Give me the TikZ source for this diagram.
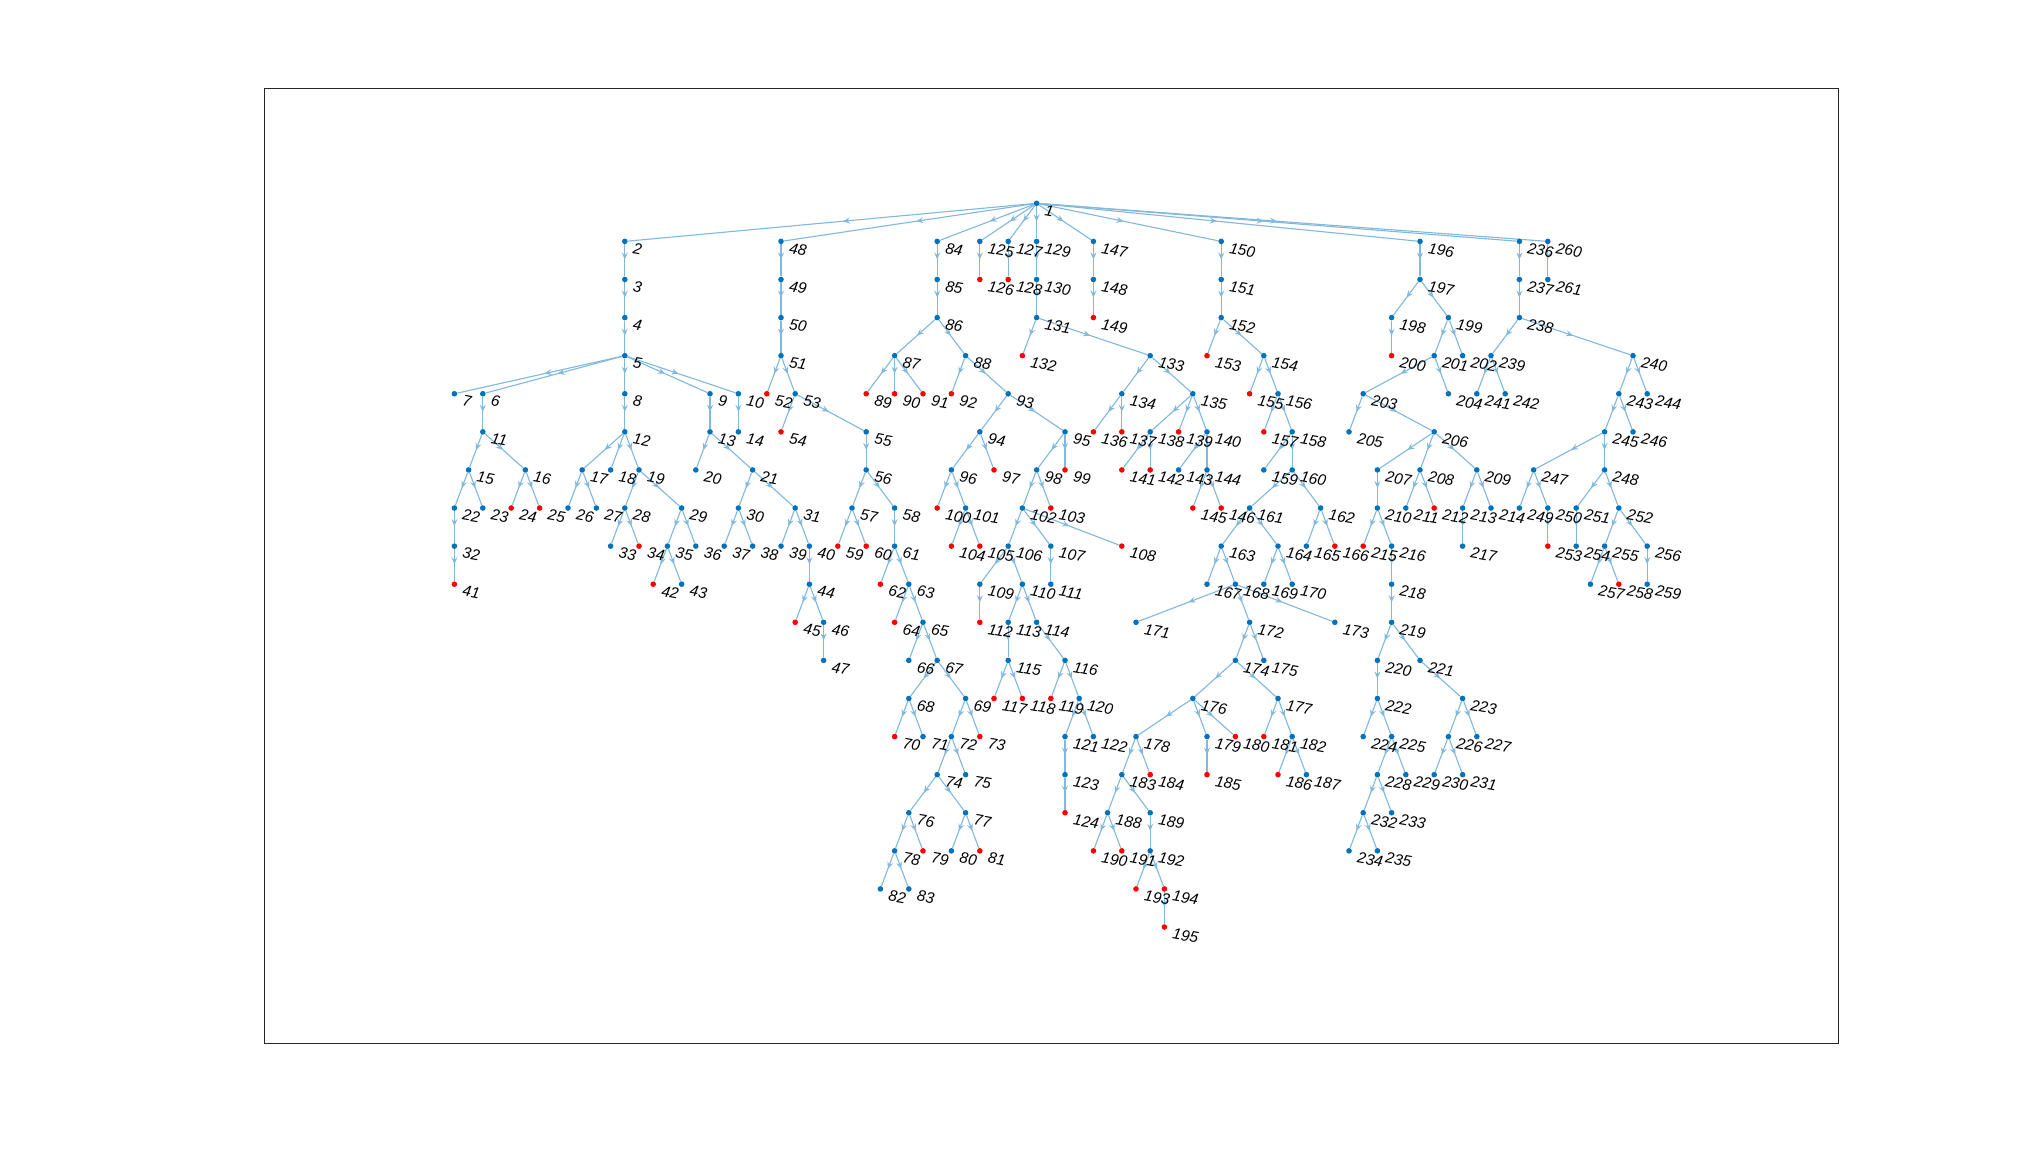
\documentclass[tikz,border=0pt]{standalone}
\usepackage{fontspec}
\setmainfont{Liberation Sans}
\usetikzlibrary{arrows.meta,decorations.markings}
\pgfdeclarelayer{paper}
\pgfdeclarelayer{edgelayer}
\pgfsetlayers{paper,edgelayer,main}
\definecolor{nodeblue}{rgb}{0,0.447,0.741}
\definecolor{edgeblue}{rgb}{0.5,0.7235,0.8705}
\definecolor{axisgray}{rgb}{0.15,0.15,0.15}
\tikzset{
  dotb/.style={circle,fill=nodeblue,inner sep=0pt,minimum size=5.6bp},
  dotr/.style={circle,fill=red,inner sep=0pt,minimum size=5.6bp},
  lbl/.style={anchor=west,rotate=-10,inner sep=0pt,font=\fontsize{15.5}{17}\selectfont\itshape},
  conn/.style={draw=edgeblue,line width=1.1bp,postaction={decorate},
    decoration={markings,mark=at position 0.47 with {\arrow{Stealth[length=7bp,width=6bp,inset=2.6bp]}}}},
}
% vertex: id, column, layer, style
\newcommand\mkv[4]{\node[#4] (v#1) at ({454.4+14.2*#2},{203.3+38.09*#3}) {};
  \node[lbl] (t#1) at ([shift={(8.3,6.5)}]v#1.center) {#1};}
% connectors from a parent to its children
\newcommand\mke[2]{\foreach \ch in {#2} {\draw[conn] (v#1) -- (v\ch);}}
\begin{document}
\begin{tikzpicture}[x=1bp,y=-1bp]
\useasboundingbox (0,0) rectangle (2031,1172);
\begin{pgfonlayer}{paper}
\fill[white] (0,0) rectangle (2031,1172);
\end{pgfonlayer}
\draw[axisgray,line width=1bp] (264,88) rectangle (1838,1043);
% vertices
\mkv{1}{41}{0}{dotb}
\mkv{2}{12}{1}{dotb}\mkv{3}{12}{2}{dotb}\mkv{4}{12}{3}{dotb}\mkv{5}{12}{4}{dotb}
\mkv{6}{2}{5}{dotb}\mkv{7}{0}{5}{dotb}\mkv{8}{12}{5}{dotb}\mkv{9}{18}{5}{dotb}\mkv{10}{20}{5}{dotb}
\mkv{11}{2}{6}{dotb}\mkv{12}{12}{6}{dotb}\mkv{13}{18}{6}{dotb}\mkv{14}{20}{6}{dotb}
\mkv{15}{1}{7}{dotb}\mkv{16}{5}{7}{dotb}\mkv{17}{9}{7}{dotb}\mkv{18}{11}{7}{dotb}\mkv{19}{13}{7}{dotb}
\mkv{20}{17}{7}{dotb}\mkv{21}{21}{7}{dotb}
\mkv{22}{0}{8}{dotb}\mkv{23}{2}{8}{dotb}\mkv{24}{4}{8}{dotr}\mkv{25}{6}{8}{dotr}\mkv{26}{8}{8}{dotb}
\mkv{27}{10}{8}{dotb}\mkv{28}{12}{8}{dotb}\mkv{29}{16}{8}{dotb}\mkv{30}{20}{8}{dotb}\mkv{31}{24}{8}{dotb}
\mkv{32}{0}{9}{dotb}\mkv{33}{11}{9}{dotb}\mkv{34}{13}{9}{dotr}\mkv{35}{15}{9}{dotb}\mkv{36}{17}{9}{dotb}
\mkv{37}{19}{9}{dotb}\mkv{38}{21}{9}{dotb}\mkv{39}{23}{9}{dotb}\mkv{40}{25}{9}{dotb}
\mkv{41}{0}{10}{dotr}\mkv{42}{14}{10}{dotr}\mkv{43}{16}{10}{dotb}\mkv{44}{25}{10}{dotb}
\mkv{45}{24}{11}{dotr}\mkv{46}{26}{11}{dotb}\mkv{47}{26}{12}{dotb}
\mkv{48}{23}{1}{dotb}\mkv{49}{23}{2}{dotb}\mkv{50}{23}{3}{dotb}\mkv{51}{23}{4}{dotb}
\mkv{52}{22}{5}{dotr}\mkv{53}{24}{5}{dotb}\mkv{54}{23}{6}{dotr}\mkv{55}{29}{6}{dotb}
\mkv{56}{29}{7}{dotb}\mkv{57}{28}{8}{dotb}\mkv{58}{31}{8}{dotb}
\mkv{59}{27}{9}{dotr}\mkv{60}{29}{9}{dotr}\mkv{61}{31}{9}{dotb}
\mkv{62}{30}{10}{dotr}\mkv{63}{32}{10}{dotb}\mkv{64}{31}{11}{dotr}\mkv{65}{33}{11}{dotb}
\mkv{66}{32}{12}{dotb}\mkv{67}{34}{12}{dotb}\mkv{68}{32}{13}{dotb}\mkv{69}{36}{13}{dotb}
\mkv{70}{31}{14}{dotr}\mkv{71}{33}{14}{dotb}\mkv{72}{35}{14}{dotb}\mkv{73}{37}{14}{dotr}
\mkv{74}{34}{15}{dotb}\mkv{75}{36}{15}{dotb}\mkv{76}{32}{16}{dotb}\mkv{77}{36}{16}{dotb}
\mkv{78}{31}{17}{dotb}\mkv{79}{33}{17}{dotr}\mkv{80}{35}{17}{dotb}\mkv{81}{37}{17}{dotr}
\mkv{82}{30}{18}{dotb}\mkv{83}{32}{18}{dotb}
\mkv{84}{34}{1}{dotb}\mkv{85}{34}{2}{dotb}\mkv{86}{34}{3}{dotb}\mkv{87}{31}{4}{dotb}\mkv{88}{36}{4}{dotb}
\mkv{89}{29}{5}{dotr}\mkv{90}{31}{5}{dotr}\mkv{91}{33}{5}{dotr}\mkv{92}{35}{5}{dotr}\mkv{93}{39}{5}{dotb}
\mkv{94}{37}{6}{dotb}\mkv{95}{43}{6}{dotb}
\mkv{96}{35}{7}{dotb}\mkv{97}{38}{7}{dotr}\mkv{98}{41}{7}{dotb}\mkv{99}{43}{7}{dotr}
\mkv{100}{34}{8}{dotr}\mkv{101}{36}{8}{dotb}\mkv{102}{40}{8}{dotb}\mkv{103}{42}{8}{dotr}
\mkv{104}{35}{9}{dotr}\mkv{105}{37}{9}{dotr}\mkv{106}{39}{9}{dotb}\mkv{107}{42}{9}{dotb}\mkv{108}{47}{9}{dotr}
\mkv{109}{37}{10}{dotb}\mkv{110}{40}{10}{dotb}\mkv{111}{42}{10}{dotb}
\mkv{112}{37}{11}{dotr}\mkv{113}{39}{11}{dotb}\mkv{114}{41}{11}{dotb}
\mkv{115}{39}{12}{dotb}\mkv{116}{43}{12}{dotb}
\mkv{117}{38}{13}{dotr}\mkv{118}{40}{13}{dotr}\mkv{119}{42}{13}{dotr}\mkv{120}{44}{13}{dotb}
\mkv{121}{43}{14}{dotb}\mkv{122}{45}{14}{dotb}\mkv{123}{43}{15}{dotb}\mkv{124}{43}{16}{dotr}
\mkv{125}{37}{1}{dotb}\mkv{126}{37}{2}{dotr}\mkv{127}{39}{1}{dotb}\mkv{128}{39}{2}{dotr}
\mkv{129}{41}{1}{dotb}\mkv{130}{41}{2}{dotb}\mkv{131}{41}{3}{dotb}\mkv{132}{40}{4}{dotr}\mkv{133}{49}{4}{dotb}
\mkv{134}{47}{5}{dotb}\mkv{135}{52}{5}{dotb}
\mkv{136}{45}{6}{dotr}\mkv{137}{47}{6}{dotr}\mkv{138}{49}{6}{dotb}\mkv{139}{51}{6}{dotr}\mkv{140}{53}{6}{dotb}
\mkv{141}{47}{7}{dotr}\mkv{142}{49}{7}{dotr}\mkv{143}{51}{7}{dotb}\mkv{144}{53}{7}{dotb}
\mkv{145}{52}{8}{dotr}\mkv{146}{54}{8}{dotr}
\mkv{147}{45}{1}{dotb}\mkv{148}{45}{2}{dotb}\mkv{149}{45}{3}{dotr}
\mkv{150}{54}{1}{dotb}\mkv{151}{54}{2}{dotb}\mkv{152}{54}{3}{dotb}\mkv{153}{53}{4}{dotr}\mkv{154}{57}{4}{dotb}
\mkv{155}{56}{5}{dotr}\mkv{156}{58}{5}{dotb}\mkv{157}{57}{6}{dotr}\mkv{158}{59}{6}{dotb}
\mkv{159}{57}{7}{dotb}\mkv{160}{59}{7}{dotb}\mkv{161}{56}{8}{dotb}\mkv{162}{61}{8}{dotb}
\mkv{163}{54}{9}{dotb}\mkv{164}{58}{9}{dotb}\mkv{165}{60}{9}{dotb}\mkv{166}{62}{9}{dotr}
\mkv{167}{53}{10}{dotb}\mkv{168}{55}{10}{dotb}\mkv{169}{57}{10}{dotb}\mkv{170}{59}{10}{dotb}
\mkv{171}{48}{11}{dotb}\mkv{172}{56}{11}{dotb}\mkv{173}{62}{11}{dotb}
\mkv{174}{55}{12}{dotb}\mkv{175}{57}{12}{dotb}\mkv{176}{52}{13}{dotb}\mkv{177}{58}{13}{dotb}
\mkv{178}{48}{14}{dotb}\mkv{179}{53}{14}{dotb}\mkv{180}{55}{14}{dotr}\mkv{181}{57}{14}{dotr}\mkv{182}{59}{14}{dotb}
\mkv{183}{47}{15}{dotb}\mkv{184}{49}{15}{dotr}\mkv{185}{53}{15}{dotr}\mkv{186}{58}{15}{dotr}\mkv{187}{60}{15}{dotb}
\mkv{188}{46}{16}{dotb}\mkv{189}{49}{16}{dotb}
\mkv{190}{45}{17}{dotr}\mkv{191}{47}{17}{dotr}\mkv{192}{49}{17}{dotb}
\mkv{193}{48}{18}{dotr}\mkv{194}{50}{18}{dotr}\mkv{195}{50}{19}{dotr}
\mkv{196}{68}{1}{dotb}\mkv{197}{68}{2}{dotb}\mkv{198}{66}{3}{dotb}\mkv{199}{70}{3}{dotb}
\mkv{200}{66}{4}{dotr}\mkv{201}{69}{4}{dotb}\mkv{202}{71}{4}{dotb}
\mkv{203}{64}{5}{dotb}\mkv{204}{70}{5}{dotb}\mkv{205}{63}{6}{dotb}\mkv{206}{69}{6}{dotb}
\mkv{207}{65}{7}{dotb}\mkv{208}{68}{7}{dotb}\mkv{209}{72}{7}{dotb}
\mkv{210}{65}{8}{dotb}\mkv{211}{67}{8}{dotb}\mkv{212}{69}{8}{dotr}\mkv{213}{71}{8}{dotb}\mkv{214}{73}{8}{dotb}
\mkv{215}{64}{9}{dotr}\mkv{216}{66}{9}{dotb}\mkv{217}{71}{9}{dotb}
\mkv{218}{66}{10}{dotb}\mkv{219}{66}{11}{dotb}\mkv{220}{65}{12}{dotb}\mkv{221}{68}{12}{dotb}
\mkv{222}{65}{13}{dotb}\mkv{223}{71}{13}{dotb}
\mkv{224}{64}{14}{dotb}\mkv{225}{66}{14}{dotb}\mkv{226}{70}{14}{dotb}\mkv{227}{72}{14}{dotb}
\mkv{228}{65}{15}{dotb}\mkv{229}{67}{15}{dotb}\mkv{230}{69}{15}{dotb}\mkv{231}{71}{15}{dotb}
\mkv{232}{64}{16}{dotb}\mkv{233}{66}{16}{dotb}\mkv{234}{63}{17}{dotb}\mkv{235}{65}{17}{dotb}
\mkv{236}{75}{1}{dotb}\mkv{237}{75}{2}{dotb}\mkv{238}{75}{3}{dotb}\mkv{239}{73}{4}{dotb}\mkv{240}{83}{4}{dotb}
\mkv{241}{72}{5}{dotb}\mkv{242}{74}{5}{dotb}\mkv{243}{82}{5}{dotb}\mkv{244}{84}{5}{dotb}
\mkv{245}{81}{6}{dotb}\mkv{246}{83}{6}{dotb}\mkv{247}{76}{7}{dotb}\mkv{248}{81}{7}{dotb}
\mkv{249}{75}{8}{dotb}\mkv{250}{77}{8}{dotb}\mkv{251}{79}{8}{dotb}\mkv{252}{82}{8}{dotb}
\mkv{253}{77}{9}{dotr}\mkv{254}{79}{9}{dotb}\mkv{255}{81}{9}{dotb}\mkv{256}{84}{9}{dotb}
\mkv{257}{80}{10}{dotb}\mkv{258}{82}{10}{dotr}\mkv{259}{84}{10}{dotb}
\mkv{260}{77}{1}{dotb}\mkv{261}{77}{2}{dotb}
% connectors
\begin{pgfonlayer}{edgelayer}
\mke{1}{2,48,84,125,127,129,147,150,196,236,260}
\mke{2}{3}\mke{3}{4}\mke{4}{5}\mke{5}{6,7,8,9,10}
\mke{6}{11}\mke{8}{12}\mke{9}{13}\mke{10}{14}
\mke{11}{15,16}\mke{12}{17,18,19}\mke{13}{20,21}
\mke{15}{22,23}\mke{16}{24,25}\mke{17}{26,27}\mke{19}{28,29}\mke{21}{30,31}
\mke{22}{32}\mke{28}{33,34}\mke{29}{35,36}\mke{30}{37,38}\mke{31}{39,40}
\mke{32}{41}\mke{35}{42,43}\mke{40}{44}\mke{44}{45,46}\mke{46}{47}
\mke{48}{49}\mke{49}{50}\mke{50}{51}\mke{51}{52,53}\mke{53}{54,55}\mke{55}{56}
\mke{56}{57,58}\mke{57}{59,60}\mke{58}{61}\mke{61}{62,63}\mke{63}{64,65}\mke{65}{66,67}
\mke{67}{68,69}\mke{68}{70,71}\mke{69}{72,73}\mke{72}{74,75}\mke{74}{76,77}
\mke{76}{78,79}\mke{77}{80,81}\mke{78}{82,83}
\mke{84}{85}\mke{85}{86}\mke{86}{87,88}\mke{87}{89,90,91}\mke{88}{92,93}
\mke{93}{94,95}\mke{94}{96,97}\mke{95}{98,99}\mke{96}{100,101}\mke{98}{102,103}
\mke{101}{104,105}\mke{102}{106,107,108}\mke{106}{109,110}\mke{107}{111}
\mke{109}{112}\mke{110}{113,114}\mke{113}{115}\mke{114}{116}
\mke{115}{117,118}\mke{116}{119,120}\mke{120}{121,122}\mke{121}{123}\mke{123}{124}
\mke{125}{126}\mke{127}{128}\mke{129}{130}\mke{130}{131}\mke{131}{132,133}
\mke{133}{134,135}\mke{134}{136,137}\mke{135}{138,139,140}\mke{138}{141,142}
\mke{140}{143,144}\mke{144}{145,146}
\mke{147}{148}\mke{148}{149}
\mke{150}{151}\mke{151}{152}\mke{152}{153,154}\mke{154}{155,156}\mke{156}{157,158}
\mke{158}{159,160}\mke{160}{161,162}\mke{161}{163,164}\mke{162}{165,166}
\mke{163}{167,168}\mke{164}{169,170}\mke{168}{171,172,173}\mke{172}{174,175}
\mke{174}{176,177}\mke{176}{178,179,180}\mke{177}{181,182}\mke{178}{183,184}
\mke{179}{185}\mke{182}{186,187}\mke{183}{188,189}\mke{188}{190,191}\mke{189}{192}
\mke{192}{193,194}\mke{194}{195}
\mke{196}{197}\mke{197}{198,199}\mke{198}{200}\mke{199}{201,202}\mke{201}{203,204}
\mke{203}{205,206}\mke{206}{207,208,209}\mke{207}{210}\mke{208}{211,212}\mke{209}{213,214}
\mke{210}{215,216}\mke{213}{217}\mke{216}{218}\mke{218}{219}\mke{219}{220,221}
\mke{220}{222}\mke{221}{223}\mke{222}{224,225}\mke{223}{226,227}\mke{225}{228,229}
\mke{226}{230,231}\mke{228}{232,233}\mke{232}{234,235}
\mke{236}{237}\mke{237}{238}\mke{238}{239,240}\mke{239}{241,242}\mke{240}{243,244}
\mke{243}{245,246}\mke{245}{247,248}\mke{247}{249,250}\mke{248}{251,252}
\mke{250}{253}\mke{251}{254}\mke{252}{255,256}\mke{255}{257,258}\mke{256}{259}
\mke{260}{261}
\end{pgfonlayer}
\end{tikzpicture}
\end{document}
